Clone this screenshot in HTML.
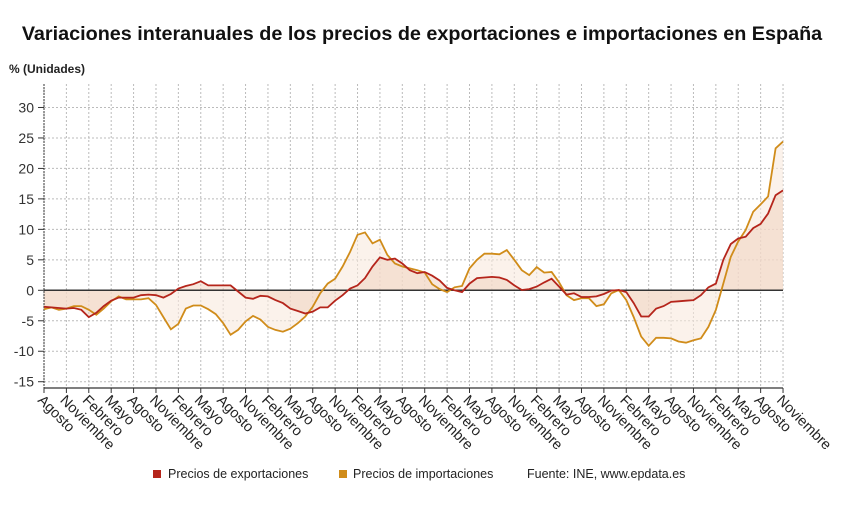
<!DOCTYPE html>
<html><head><meta charset="utf-8">
<style>
body{margin:0;background:#fff;width:844px;height:509px;overflow:hidden;font-family:"Liberation Sans","DejaVu Sans",sans-serif;}
</style></head><body>
<svg id="s" width="844" height="509" xmlns="http://www.w3.org/2000/svg" font-family="Liberation Sans, DejaVu Sans, sans-serif">
<text x="422" y="40" text-anchor="middle" font-size="19.8" font-weight="bold" fill="#111">Variaciones interanuales de los precios de exportaciones e importaciones en España</text>
<text x="9" y="73" font-size="12" font-weight="bold" fill="#222">% (Unidades)</text>
<g id="g"></g>
<rect x="153" y="470" width="8" height="8" fill="#b5251b"/>
<text x="168" y="478" font-size="12.5" fill="#222">Precios de exportaciones</text>
<rect x="339" y="470" width="8" height="8" fill="#d08c1a"/>
<text x="353" y="478" font-size="12.5" fill="#222">Precios de importaciones</text>
<text x="527" y="478" font-size="12.5" fill="#222">Fuente: INE, www.epdata.es</text>
</svg>
<script>
var ex=[-2.7,-2.8,-2.9,-3.0,-2.9,-3.2,-4.4,-3.7,-2.6,-1.7,-1.2,-1.2,-1.2,-0.8,-0.7,-0.8,-1.2,-0.6,0.3,0.7,1.0,1.5,0.8,0.8,0.8,0.8,-0.2,-1.2,-1.4,-0.9,-1.0,-1.6,-2.1,-3.0,-3.4,-3.8,-3.5,-2.8,-2.8,-1.7,-0.8,0.3,0.8,2.0,3.9,5.4,5.0,5.2,4.4,3.3,2.8,3.0,2.4,1.6,0.4,0,-0.3,1.1,2.0,2.1,2.2,2.1,1.7,0.8,0.05,0.2,0.6,1.3,1.9,0.6,-0.7,-0.5,-1.1,-1.1,-1.0,-0.6,-0.05,0.05,-0.3,-2.1,-4.3,-4.3,-3.0,-2.6,-1.9,-1.8,-1.7,-1.6,-0.8,0.5,1.1,5.0,7.6,8.5,8.8,10.2,10.9,12.6,15.6,16.4];
var im=[-3.1,-2.8,-3.2,-3.0,-2.6,-2.6,-3.2,-4.0,-3.0,-1.8,-1.0,-1.5,-1.5,-1.5,-1.3,-2.4,-4.4,-6.4,-5.5,-3.0,-2.5,-2.5,-3.1,-3.9,-5.4,-7.3,-6.5,-5.1,-4.2,-4.8,-6.0,-6.5,-6.8,-6.3,-5.4,-4.3,-2.7,-0.5,1.1,1.9,3.9,6.3,9.1,9.5,7.7,8.3,5.8,4.4,3.9,3.6,3.3,2.9,1.0,0.2,-0.3,0.5,0.7,3.6,5.0,6.0,6.0,5.9,6.6,5.0,3.3,2.5,3.8,2.9,3.0,1.3,-0.8,-1.6,-1.3,-1.3,-2.6,-2.3,-0.5,0.05,-1.6,-4.4,-7.6,-9.1,-7.8,-7.8,-7.9,-8.4,-8.6,-8.2,-7.9,-6.0,-3.2,1.1,5.5,8.0,9.9,12.9,14.1,15.4,23.3,24.4];
var X=function(i){return 44+7.465*i},Y=function(v){return 290.3-v*6.094};
var h='';
for(var v=-15;v<=30;v+=5){if(v==0)continue;h+='<line x1="44" x2="783" y1="'+Y(v)+'" y2="'+Y(v)+'" stroke="#bbb" stroke-dasharray="2,2"/>';}
var labs=["Agosto","Noviembre","Febrero","Mayo"];
for(var k=0;k<34;k++){var x=X(3*k);h+='<line x1="'+x+'" x2="'+x+'" y1="84" y2="388" stroke="#bbb" stroke-dasharray="2,2"/>';
h+='<line x1="'+x+'" x2="'+x+'" y1="388" y2="393" stroke="#333"/>';
h+='<text font-size="14.5" fill="#222" transform="translate('+(x-7)+',401) rotate(45)">'+labs[k%4]+'</text>';}
for(var v=-15;v<=30;v+=5){h+='<text x="34" y="'+(Y(v)+5)+'" font-size="14" text-anchor="end" fill="#333">'+v+'</text><line x1="38" x2="44" y1="'+Y(v)+'" y2="'+Y(v)+'" stroke="#333"/>';}
function area(a){var p='M'+X(0)+','+Y(0);for(var i=0;i<a.length;i++)p+='L'+X(i).toFixed(1)+','+Y(a[i]).toFixed(1);return p+'L'+X(a.length-1)+','+Y(0)+'Z';}
function line(a){var p='';for(var i=0;i<a.length;i++)p+=(i?'L':'M')+X(i).toFixed(1)+','+Y(a[i]).toFixed(1);return p;}
h+='<path d="'+area(im)+'" fill="#f8e9de" fill-opacity="0.6"/>';
h+='<path d="'+area(ex)+'" fill="#efcfbb" fill-opacity="0.5"/>';
h+='<line x1="44" x2="783" y1="'+Y(0)+'" y2="'+Y(0)+'" stroke="#333" stroke-width="1.5"/>';
h+='<line x1="44" x2="44" y1="84" y2="388" stroke="#333" stroke-dasharray="2,1"/>';
h+='<line x1="44" x2="783" y1="388" y2="388" stroke="#333" stroke-width="1.3"/>';
h+='<path d="'+line(im)+'" fill="none" stroke="#d08c1a" stroke-width="1.8"/>';
h+='<path d="'+line(ex)+'" fill="none" stroke="#b5251b" stroke-width="1.8"/>';
document.getElementById('g').innerHTML=h;
</script>
</body></html>
